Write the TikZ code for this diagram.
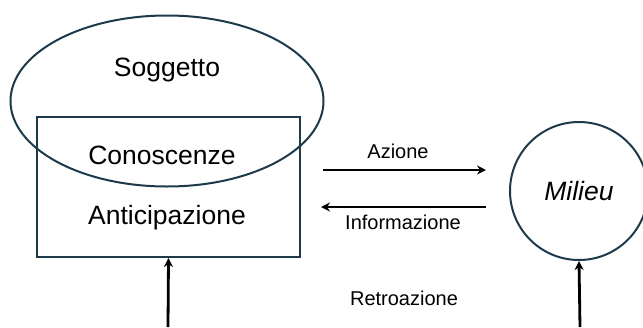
\documentclass[tikz,border=0pt]{standalone}
\usepackage{fontspec}
\setmainfont{Liberation Sans}
\usetikzlibrary{shapes.geometric,arrows.meta}
\definecolor{outline}{HTML}{1C3A4A}
\tikzset{
  shapeline/.style={draw=outline,line width=2pt},
  bigtext/.style={font=\fontsize{26.5}{30}\selectfont},
  smalltext/.style={font=\fontsize{20}{24}\selectfont},
  flow/.style={line width=2.8pt,-{Stealth[length=9pt,width=9pt]}}
}
\begin{document}
\begin{tikzpicture}[x=1pt,y=-1pt]
  \useasboundingbox (0,0) rectangle (643,327);
  \node[shapeline,ellipse,minimum width=313pt,minimum height=171pt,inner sep=0pt] (sogg) at (167,101) {};
  \node[shapeline,rectangle,minimum width=263pt,minimum height=140pt,inner sep=0pt] (box) at (168.5,187) {};
  \node[shapeline,circle,minimum size=138pt,inner sep=0pt,bigtext] (milieu) at (579,191) {\itshape Milieu};
  \node[bigtext] (soggtxt) at (167,70) {Soggetto};
  \node[bigtext] (conosc) at (162,155) {Conoscenze};
  \node[bigtext] (antic) at (167,218) {Anticipazione};
  \node[smalltext] (azione) at (398,151) {Azione};
  \node[smalltext] (info) at (403,222) {Informazione};
  \node[smalltext] (retro) at (404,298) {Retroazione};
  \coordinate (az1) at (323,170);
  \coordinate (az2) at (486,170);
  \coordinate (in1) at (486,207);
  \coordinate (in2) at (321,207);
  \coordinate (fb1) at (168,327);
  \coordinate (fb2) at (580,327);
  \draw[flow] (az1) -- (az2);
  \draw[flow] (in1) -- (in2);
  \draw[flow] (fb1) -- (box.south);
  \draw[flow] (fb2) -- (milieu.south);
\end{tikzpicture}
\end{document}
